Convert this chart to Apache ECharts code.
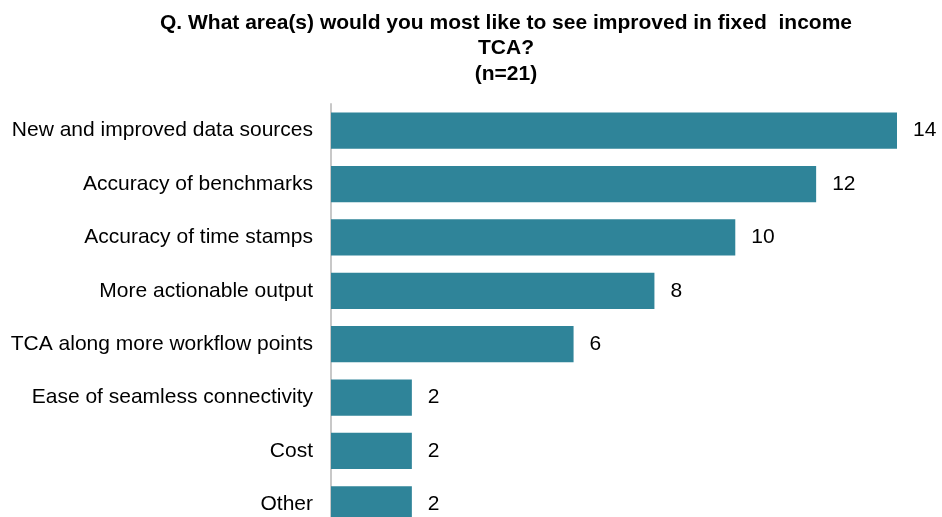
<!DOCTYPE html>
<html>
<head>
<meta charset="utf-8">
<script src="https://cdn.jsdelivr.net/npm/echarts@6/dist/echarts.min.js"></script>
<style>
  html, body { margin: 0; padding: 0; background: #fff; }
  #chart { width: 942px; height: 517px; }
</style>
</head>
<body>
<div id="chart"></div>
<script>
// Survey answers, listed top to bottom
const categories = [
  'New and improved data sources',
  'Accuracy of benchmarks',
  'Accuracy of time stamps',
  'More actionable output',
  'TCA along more workflow points',
  'Ease of seamless connectivity',
  'Cost',
  'Other'
];
const responses = [14, 12, 10, 8, 6, 2, 2, 2];
const titleLines = [
  'Q. What area(s) would you most like to see improved in fixed  income',
  'TCA?',
  '(n=21)'
];

const chart = echarts.init(document.getElementById('chart'), null, { renderer: 'canvas' });

chart.setOption({
  animation: false,
  backgroundColor: '#ffffff',
  title: {
    text: titleLines.join('\n'),
    left: 501,
    textAlign: 'center',
    top: 5,
    textStyle: {
      fontFamily: '"Liberation Sans", Arial, sans-serif',
      fontWeight: 'bold',
      fontSize: 21,
      lineHeight: 25.5,
      color: '#000'
    }
  },
  // plot area runs past the lower edge, so the last bar is partly cut off
  grid: {
    left: 331,
    right: 45,
    top: 104,
    height: 427,
    containLabel: false,
    outerBoundsMode: 'none'
  },
  xAxis: {
    type: 'value',
    min: 0,
    max: 14,
    show: false
  },
  yAxis: {
    type: 'category',
    data: categories,
    inverse: true,
    axisLine: { show: true, lineStyle: { color: '#c8c8c8', width: 2 } },
    axisTick: { show: false },
    axisLabel: {
      margin: 18,
      fontFamily: '"Liberation Sans", Arial, sans-serif',
      fontSize: 21,
      color: '#000'
    }
  },
  series: [{
    type: 'bar',
    data: responses,
    barCategoryGap: '32%',
    itemStyle: { color: '#2f8499' },
    label: {
      show: true,
      position: 'right',
      distance: 16,
      fontFamily: '"Liberation Sans", Arial, sans-serif',
      fontSize: 21,
      color: '#000'
    }
  }]
});
</script>
</body>
</html>
